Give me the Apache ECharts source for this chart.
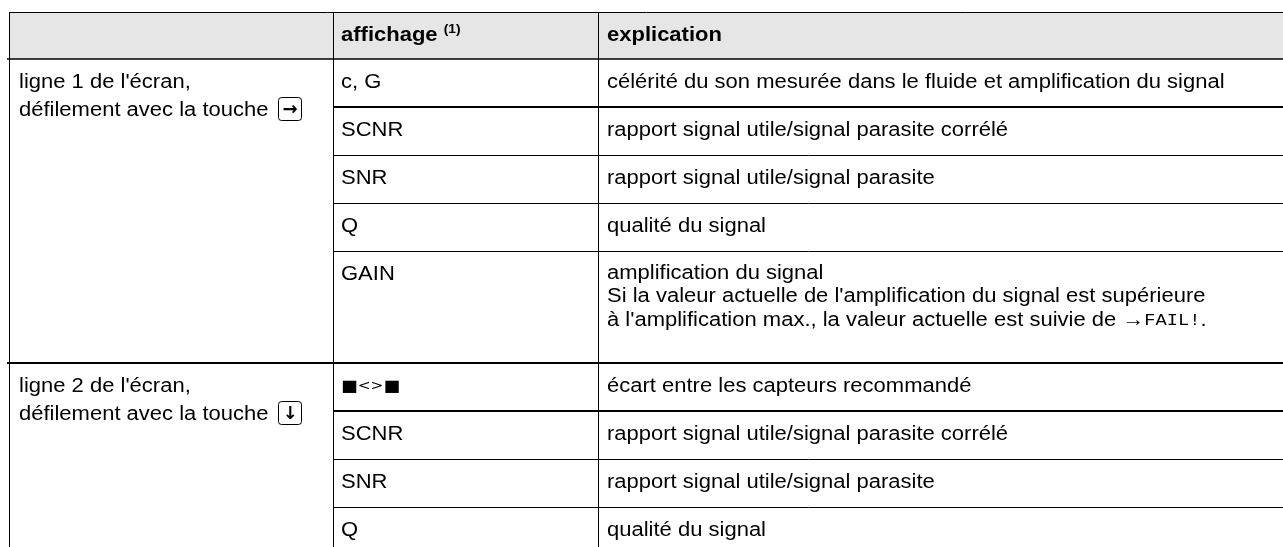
<!DOCTYPE html>
<html><head><meta charset="utf-8">
<script src="https://cdn.jsdelivr.net/npm/echarts@6/dist/echarts.min.js"></script>
<style>html,body{margin:0;padding:0;background:#fff}#c{width:1283px;height:547px}</style>
</head><body><div id="c"></div>
<script>
// ---------- data ----------
const headerLabels = ['', 'affichage', 'explication'];
const headerNote = '(1)';
const groupLabels = ["ligne 1 de l'écran,", "ligne 2 de l'écran,"];
const scrollLabel = 'défilement avec la touche';
const groupKeys = ['→', '↓'];
const displays1 = ['c, G', 'SCNR', 'SNR', 'Q', 'GAIN'];
const explanations1 = [
  'célérité du son mesurée dans le fluide et amplification du signal',
  'rapport signal utile/signal parasite corrélé',
  'rapport signal utile/signal parasite',
  'qualité du signal',
  "amplification du signal\nSi la valeur actuelle de l'amplification du signal est supérieure\nà l'amplification max., la valeur actuelle est suivie de →{m|FAIL!}."
];
const displays2 = ['{sq|■}{lt|<>}{sq|■}', 'SCNR', 'SNR', 'Q'];
const explanations2 = [
  'écart entre les capteurs recommandé',
  'rapport signal utile/signal parasite corrélé',
  'rapport signal utile/signal parasite',
  'qualité du signal'
];
const groupDisplays = [displays1, displays2];
const groupExplanations = [explanations1, explanations2];

// ---------- layout ----------
const W = 1283, H = 547;
const FONT = '"Liberation Sans", Arial, sans-serif';
const FS = 20;
const SX = 1.1;
const colX = [9, 333, 598, W + 20];
const PADS = [10, 8, 9];
const TOP = 12, HEAD_H = 47, ROW_H = 48, LINE_H = 23.5;
const lineColor = '#000';

const mctx = document.createElement('canvas').getContext('2d');
function measure(t, font) { mctx.font = font; return mctx.measureText(t).width; }

function rowHeight(text) {
  const n = text.split('\n').length;
  return n === 1 ? ROW_H : 112 + (n - 3) * LINE_H;
}

const rects = [];   // [x0,y0,x1,y1]
const segs = [];    // [x0,y0,x1,y1,width]
const texts = [];   // {x,y,text,bold,size}
const keys = [];    // {x,y,glyph}

// header
rects.push([colX[0], TOP, colX[3], TOP + HEAD_H]);
segs.push([colX[0], TOP, colX[3], TOP, 1]);
segs.push([7, TOP + HEAD_H, colX[3], TOP + HEAD_H, 1.5]);
headerLabels.forEach((h, i) => {
  if (!h) return;
  texts.push({x: colX[i] + PADS[i], y: TOP + HEAD_H / 2, text: h, bold: true, size: FS});
});
const affW = measure(headerLabels[1] + ' ', 'bold ' + FS + 'px ' + FONT) * SX;
texts.push({x: colX[1] + PADS[1] + affW, y: TOP + HEAD_H / 2 - 6, text: headerNote, bold: true, size: 12.5});

let y = TOP + HEAD_H;
groupLabels.forEach((g, gi) => {
  const gTop = y;
  texts.push({x: colX[0] + PADS[0], y: gTop + 23.5, text: g, size: FS});
  texts.push({x: colX[0] + PADS[0], y: gTop + 51, text: scrollLabel, size: FS});
  const sw = measure(scrollLabel, FS + 'px ' + FONT) * SX;
  keys.push({x: colX[0] + PADS[0] + sw + 10 + 11.5, y: gTop + 50, glyph: groupKeys[gi]});
  const disp = groupDisplays[gi], expl = groupExplanations[gi];
  disp.forEach((d, ri) => {
    const h = rowHeight(expl[ri]);
    texts.push({x: colX[1] + PADS[1], y: y + 23.5, text: d, size: FS});
    expl[ri].split('\n').forEach((ln, li) => {
      texts.push({x: colX[2] + PADS[2], y: y + (h === ROW_H ? 23.5 : 22 + li * LINE_H), text: ln, size: FS});
    });
    y += h;
    if (ri < disp.length - 1) {
      segs.push([colX[1], y, colX[3], y, ri === 0 ? 2 : 1]);
    }
  });
  if (gi < groupLabels.length - 1) segs.push([7, y, colX[3], y, 2]);
});
// vertical lines
[0, 1, 2].forEach(i => segs.push([colX[i], TOP, colX[i], H + 20, 1]));

const rich = {
  m: {fontFamily: '"Liberation Mono", "Courier New", monospace', fontSize: 17, color: '#333'},
  sq: {fontFamily: '"DejaVu Sans", sans-serif', fontSize: 16, color: '#000'},
  lt: {fontFamily: '"DejaVu Sans", sans-serif', fontSize: 14, color: '#666'}
};

function crisp(v, w) { return Math.round(v) + ((Math.round(w) % 2) ? 0.5 : 0); }

const chart = echarts.init(document.getElementById('c'), null, {renderer: 'canvas'});
chart.setOption({
  animation: false,
  backgroundColor: '#fff',
  grid: {left: 0, right: 0, top: 0, bottom: 0},
  xAxis: {type: 'value', min: 0, max: W, show: false},
  yAxis: {type: 'value', min: 0, max: H, inverse: true, show: false},
  series: [
    {
      type: 'custom', z: 1,
      data: rects,
      renderItem: (p, api) => {
        const a = api.coord([api.value(0), api.value(1)]);
        const b = api.coord([api.value(2), api.value(3)]);
        return {type: 'rect', shape: {x: a[0], y: a[1], width: b[0] - a[0], height: b[1] - a[1]},
          style: {fill: '#e6e6e6'}};
      }
    },
    {
      type: 'custom', z: 3,
      data: segs,
      renderItem: (p, api) => {
        const w = api.value(4);
        const a = api.coord([api.value(0), api.value(1)]);
        const b = api.coord([api.value(2), api.value(3)]);
        let x1 = a[0], y1 = a[1], x2 = b[0], y2 = b[1];
        if (y1 === y2) { y1 = y2 = crisp(y1, w); } else { x1 = x2 = crisp(x1, w); }
        return {type: 'line', shape: {x1, y1, x2, y2}, style: {stroke: lineColor, lineWidth: w}};
      }
    },
    {
      type: 'custom', z: 4,
      data: texts.map((t, i) => [t.x, t.y, i]),
      renderItem: (p, api) => {
        const t = texts[api.value(2)];
        const pt = api.coord([api.value(0), api.value(1)]);
        return {type: 'text', x: pt[0], y: pt[1], scaleX: SX, style: {
          text: t.text, x: 0, y: 0, fill: '#000',
          fontFamily: FONT, fontSize: t.size, fontWeight: t.bold ? 'bold' : 'normal',
          align: 'left', verticalAlign: 'middle', rich: rich
        }};
      }
    },
    {
      type: 'custom', z: 5,
      data: keys.map((k, i) => [k.x, k.y, i]),
      renderItem: (p, api) => {
        const k = keys[api.value(2)];
        const pt = api.coord([api.value(0), api.value(1)]);
        const cx = Math.round(pt[0]), cy = Math.round(pt[1]);
        return {type: 'group', children: [
          {type: 'rect', shape: {x: cx - 11.5, y: cy - 11.5, width: 23, height: 23, r: 3},
            style: {fill: 'none', stroke: '#000', lineWidth: 1}},
          {type: 'text', style: {text: k.glyph, x: cx, y: cy + 1, fill: '#000',
            fontFamily: '"DejaVu Sans", sans-serif', fontSize: 18, fontWeight: 'bold',
            align: 'center', verticalAlign: 'middle'}}
        ]};
      }
    }
  ]
});
</script></body></html>
